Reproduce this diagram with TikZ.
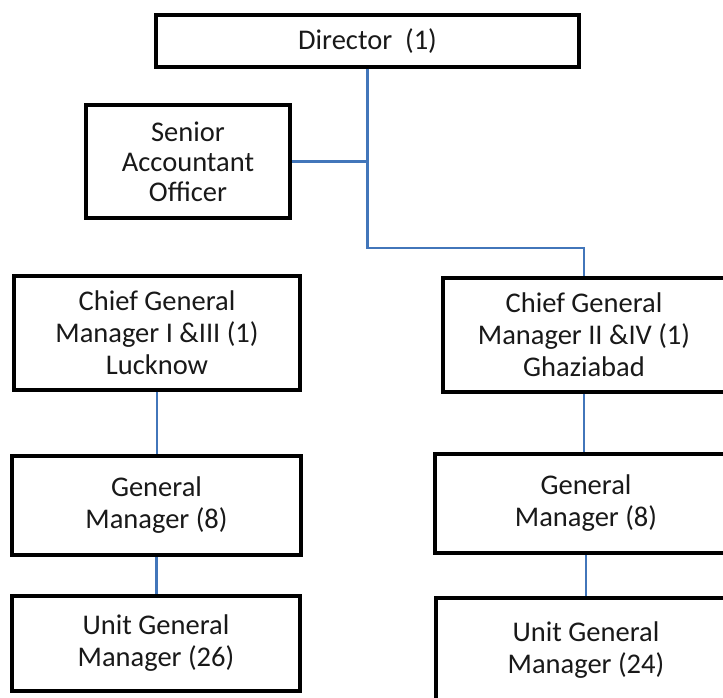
\documentclass[tikz,border=0pt]{standalone}
\usepackage{fontspec}
\setmainfont{Carlito}
\begin{document}
\begin{tikzpicture}[x=1pt, y=-1pt,
  post/.style={draw=black, line width=3.6pt, rectangle, inner sep=0pt,
    align=center, font=\fontsize{28.5}{32}\selectfont, text=black!90},
  link/.style={draw={rgb,255:red,66;green,118;blue,186}, line width=2.3pt}]
  \useasboundingbox (0,0) rectangle (723,697);
  \clip (0,0) rectangle (723,697);
  \fill[white] (0,0) rectangle (723,697);

  % top level
  \node[post, minimum width=423pt, minimum height=52pt] (dir) at (367.5,41) {Director~~(1)};
  \node[post, minimum width=204pt, minimum height=113pt,
        font=\fontsize{28.5}{30}\selectfont] (sao) at (188,161.5)
        {Senior\\Accountant\\Officer};

  % Lucknow branch
  \node[post, minimum width=286pt, minimum height=114pt] (cgmL) at (157,333)
        {Chief General\\Manager I \&III (1)\\Lucknow};
  \node[post, minimum width=289pt, minimum height=99pt] (gmL) at (156.5,505.5)
        {General\\Manager (8)};
  \node[post, minimum width=288pt, minimum height=95pt] (ugmL) at (156,643.5)
        {Unit General\\Manager (26)};

  % Ghaziabad branch
  \node[post, minimum width=282pt, minimum height=114pt] (cgmR) at (584,335)
        {Chief General\\Manager II \&IV (1)\\Ghaziabad};
  \node[post, minimum width=302pt, minimum height=99pt] (gmR) at (586,503.5)
        {General\\Manager (8)};
  \node[post, minimum width=300pt, minimum height=104pt] (ugmR) at (586,650)
        {Unit General\\Manager (24)};

  % reporting lines
  \coordinate (bend) at (0,248);
  \draw[link] (dir.south) -- (dir.south |- bend) -| (cgmR.north);
  \draw[link] (sao.east) -- (sao.east -| dir.south);
  \draw[link] (cgmL.south) -- (gmL.north -| cgmL.south);
  \draw[link] (gmL.south) -- (ugmL.north -| gmL.south);
  \draw[link] (cgmR.south) -- (gmR.north -| cgmR.south);
  \draw[link] (gmR.south) -- (ugmR.north -| gmR.south);
\end{tikzpicture}
\end{document}
